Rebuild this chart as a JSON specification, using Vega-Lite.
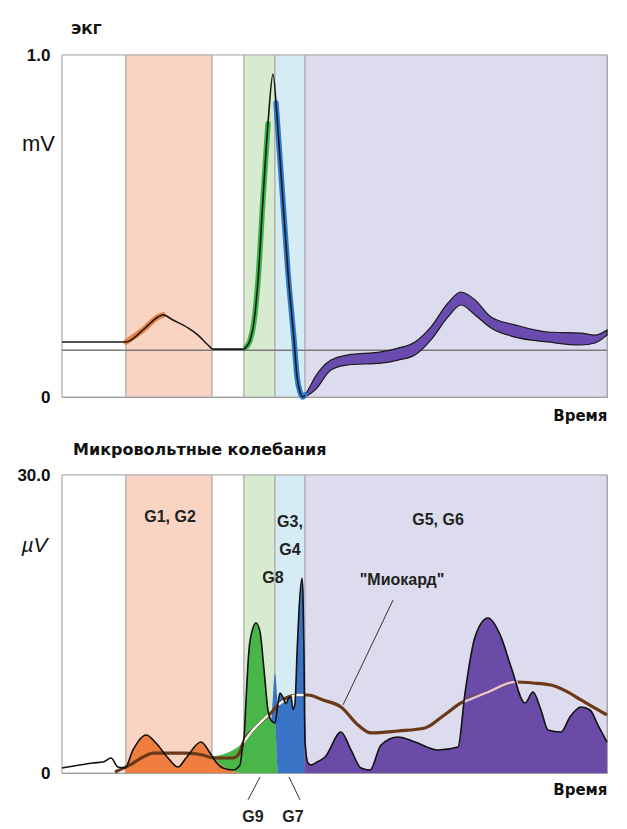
{
  "$schema": "https://vega.github.io/schema/vega-lite/v6.json",
  "padding": {"left": 16, "top": 22, "right": 10, "bottom": 0},
  "background": "white",
  "bounds": "flush",
  "spacing": 78,
  "config": {
    "font": "Liberation Sans",
    "view": {"stroke": "#9c9c9c", "strokeWidth": 1.2},
    "axis": {"grid": false, "ticks": false, "domain": false}
  },
  "datasets": {
    "bands": [
      {"b": "w1", "t": 0, "t2": 64},
      {"b": "o", "t": 64, "t2": 150},
      {"b": "w2", "t": 150, "t2": 182},
      {"b": "g", "t": 182, "t2": 213},
      {"b": "c", "t": 213, "t2": 243},
      {"b": "p", "t": 243, "t2": 545}
    ],
    "ecg": [
      {"t": 0, "v": 0.161}, {"t": 36, "v": 0.161}, {"t": 64, "v": 0.161}, {"t": 81, "v": 0.196},
      {"t": 96, "v": 0.234}, {"t": 101, "v": 0.24}, {"t": 111, "v": 0.225}, {"t": 126, "v": 0.202},
      {"t": 136, "v": 0.181}, {"t": 146, "v": 0.152}, {"t": 151, "v": 0.14}, {"t": 182, "v": 0.14},
      {"t": 184, "v": 0.146}, {"t": 188, "v": 0.165}, {"t": 192, "v": 0.22}, {"t": 196, "v": 0.34},
      {"t": 201, "v": 0.58}, {"t": 206, "v": 0.8}, {"t": 211, "v": 0.944}, {"t": 215, "v": 0.82},
      {"t": 219, "v": 0.655}, {"t": 226, "v": 0.363}, {"t": 232, "v": 0.167}, {"t": 235, "v": 0.06},
      {"t": 238, "v": 0.015}, {"t": 241, "v": 0.0}, {"t": 243, "v": 0.006}
    ],
    "ecgSeg": [
      {"seg": "o", "t": 64, "v": 0.161}, {"seg": "o", "t": 81, "v": 0.196}, {"seg": "o", "t": 96, "v": 0.234}, {"seg": "o", "t": 101, "v": 0.24},
      {"seg": "g", "t": 184, "v": 0.146}, {"seg": "g", "t": 188, "v": 0.165}, {"seg": "g", "t": 192, "v": 0.22}, {"seg": "g", "t": 196, "v": 0.34}, {"seg": "g", "t": 201, "v": 0.58}, {"seg": "g", "t": 206, "v": 0.8},
      {"seg": "c", "t": 214, "v": 0.86}, {"seg": "c", "t": 219, "v": 0.655}, {"seg": "c", "t": 226, "v": 0.363}, {"seg": "c", "t": 232, "v": 0.167}, {"seg": "c", "t": 235, "v": 0.06}, {"seg": "c", "t": 238, "v": 0.015}, {"seg": "c", "t": 241, "v": 0.0}, {"seg": "c", "t": 243, "v": 0.006}
    ],
    "twave": [
      {"t": 243, "hi": 0.006, "lo": 0.0}, {"t": 246, "hi": 0.02, "lo": 0.005}, {"t": 253, "hi": 0.058, "lo": 0.02},
      {"t": 269, "hi": 0.108, "lo": 0.079}, {"t": 286, "hi": 0.123, "lo": 0.094}, {"t": 319, "hi": 0.132, "lo": 0.099},
      {"t": 336, "hi": 0.143, "lo": 0.108}, {"t": 353, "hi": 0.161, "lo": 0.123}, {"t": 369, "hi": 0.205, "lo": 0.167},
      {"t": 386, "hi": 0.275, "lo": 0.234}, {"t": 399, "hi": 0.307, "lo": 0.269}, {"t": 413, "hi": 0.284, "lo": 0.24},
      {"t": 429, "hi": 0.234, "lo": 0.202}, {"t": 453, "hi": 0.211, "lo": 0.175}, {"t": 486, "hi": 0.19, "lo": 0.161},
      {"t": 519, "hi": 0.187, "lo": 0.152}, {"t": 533, "hi": 0.181, "lo": 0.158}, {"t": 545, "hi": 0.196, "lo": 0.181}
    ],
    "sig": [
      {"t": 0, "v": 0.5}, {"t": 18, "v": 0.81}, {"t": 31, "v": 1.01}, {"t": 41, "v": 1.1}, {"t": 49, "v": 1.51},
      {"t": 56, "v": 0.6}, {"t": 63, "v": 0.5}, {"t": 71, "v": 2.32}, {"t": 84, "v": 3.83}, {"t": 94, "v": 3.02},
      {"t": 106, "v": 1.51}, {"t": 116, "v": 0.6}, {"t": 124, "v": 1.51}, {"t": 139, "v": 3.12}, {"t": 148, "v": 2.01},
      {"t": 150, "v": 1.7}, {"t": 154, "v": 1.11}, {"t": 161, "v": 0.5}, {"t": 171, "v": 0.3}, {"t": 178, "v": 0.81},
      {"t": 181, "v": 3.02}, {"t": 182, "v": 3.5}, {"t": 184, "v": 7.3}, {"t": 187, "v": 12.4}, {"t": 191, "v": 14.6},
      {"t": 194, "v": 15.1}, {"t": 198, "v": 14.2}, {"t": 202, "v": 10.4}, {"t": 206, "v": 6.3}, {"t": 209, "v": 5.3},
      {"t": 213, "v": 5.03}, {"t": 216, "v": 7.0}, {"t": 218, "v": 8.05}, {"t": 221, "v": 7.6}, {"t": 224, "v": 7.0},
      {"t": 227, "v": 7.6}, {"t": 229, "v": 7.65}, {"t": 231, "v": 6.4}, {"t": 233, "v": 7.0}, {"t": 235, "v": 12.0},
      {"t": 237, "v": 16.4}, {"t": 240, "v": 19.6}, {"t": 241, "v": 18.0}, {"t": 242, "v": 12.0}, {"t": 243, "v": 3.0},
      {"t": 246, "v": 1.0}, {"t": 249, "v": 0.8}, {"t": 255, "v": 1.1}, {"t": 263, "v": 1.61}, {"t": 279, "v": 4.13},
      {"t": 289, "v": 2.32}, {"t": 299, "v": 0.5}, {"t": 308, "v": 0.3}, {"t": 319, "v": 2.82}, {"t": 336, "v": 3.62},
      {"t": 353, "v": 3.12}, {"t": 376, "v": 2.32}, {"t": 396, "v": 2.62}, {"t": 403, "v": 8.05}, {"t": 413, "v": 13.7},
      {"t": 426, "v": 15.6}, {"t": 439, "v": 13.7}, {"t": 449, "v": 10.7}, {"t": 463, "v": 7.05}, {"t": 471, "v": 8.15},
      {"t": 479, "v": 6.34}, {"t": 486, "v": 4.33}, {"t": 499, "v": 4.13}, {"t": 508, "v": 5.64}, {"t": 519, "v": 6.64},
      {"t": 528, "v": 6.34}, {"t": 536, "v": 4.83}, {"t": 545, "v": 3.12}
    ],
    "fill": [
      {"seg": "o", "t": 63, "v": 0.5}, {"seg": "o", "t": 71, "v": 2.32}, {"seg": "o", "t": 84, "v": 3.83}, {"seg": "o", "t": 94, "v": 3.02},
      {"seg": "o", "t": 106, "v": 1.51}, {"seg": "o", "t": 116, "v": 0.6}, {"seg": "o", "t": 124, "v": 1.51}, {"seg": "o", "t": 139, "v": 3.12},
      {"seg": "o", "t": 148, "v": 2.01}, {"seg": "o", "t": 150, "v": 1.7},
      {"seg": "g", "t": 181, "v": 3.02}, {"seg": "g", "t": 182, "v": 3.5}, {"seg": "g", "t": 184, "v": 7.3}, {"seg": "g", "t": 187, "v": 12.4},
      {"seg": "g", "t": 191, "v": 14.6}, {"seg": "g", "t": 194, "v": 15.1}, {"seg": "g", "t": 198, "v": 14.2}, {"seg": "g", "t": 202, "v": 10.4},
      {"seg": "g", "t": 206, "v": 6.3}, {"seg": "g", "t": 209, "v": 5.3}, {"seg": "g", "t": 213, "v": 5.03},
      {"seg": "c", "t": 213, "v": 5.03}, {"seg": "c", "t": 216, "v": 7.0}, {"seg": "c", "t": 218, "v": 8.05}, {"seg": "c", "t": 221, "v": 7.6},
      {"seg": "c", "t": 224, "v": 7.0}, {"seg": "c", "t": 227, "v": 7.6}, {"seg": "c", "t": 229, "v": 7.65}, {"seg": "c", "t": 231, "v": 6.4},
      {"seg": "c", "t": 233, "v": 7.0}, {"seg": "c", "t": 235, "v": 12.0}, {"seg": "c", "t": 237, "v": 16.4}, {"seg": "c", "t": 240, "v": 19.6},
      {"seg": "c", "t": 241, "v": 18.0}, {"seg": "c", "t": 242, "v": 12.0}, {"seg": "c", "t": 243, "v": 3.0},
      {"seg": "p", "t": 243, "v": 3.0}, {"seg": "p", "t": 246, "v": 1.0}, {"seg": "p", "t": 249, "v": 0.8}, {"seg": "p", "t": 255, "v": 1.1},
      {"seg": "p", "t": 263, "v": 1.61}, {"seg": "p", "t": 279, "v": 4.13}, {"seg": "p", "t": 289, "v": 2.32}, {"seg": "p", "t": 299, "v": 0.5},
      {"seg": "p", "t": 308, "v": 0.3}, {"seg": "p", "t": 319, "v": 2.82}, {"seg": "p", "t": 336, "v": 3.62}, {"seg": "p", "t": 353, "v": 3.12},
      {"seg": "p", "t": 376, "v": 2.32}, {"seg": "p", "t": 396, "v": 2.62}, {"seg": "p", "t": 403, "v": 8.05}, {"seg": "p", "t": 413, "v": 13.7},
      {"seg": "p", "t": 426, "v": 15.6}, {"seg": "p", "t": 439, "v": 13.7}, {"seg": "p", "t": 449, "v": 10.7}, {"seg": "p", "t": 463, "v": 7.05},
      {"seg": "p", "t": 471, "v": 8.15}, {"seg": "p", "t": 479, "v": 6.34}, {"seg": "p", "t": 486, "v": 4.33}, {"seg": "p", "t": 499, "v": 4.13},
      {"seg": "p", "t": 508, "v": 5.64}, {"seg": "p", "t": 519, "v": 6.64}, {"seg": "p", "t": 528, "v": 6.34}, {"seg": "p", "t": 536, "v": 4.83},
      {"seg": "p", "t": 545, "v": 3.12}
    ],
    "myo": [
      {"t": 53, "v": 0.1}, {"t": 68, "v": 0.81}, {"t": 81, "v": 1.61}, {"t": 91, "v": 2.01}, {"t": 124, "v": 2.01},
      {"t": 141, "v": 1.81}, {"t": 151, "v": 1.51}, {"t": 171, "v": 1.51}, {"t": 178, "v": 2.11}, {"t": 181, "v": 3.02},
      {"t": 191, "v": 4.33}, {"t": 201, "v": 5.34}, {"t": 209, "v": 6.04}, {"t": 216, "v": 6.85}, {"t": 226, "v": 7.65},
      {"t": 236, "v": 7.85}, {"t": 246, "v": 7.85}, {"t": 261, "v": 7.35}, {"t": 279, "v": 6.64}, {"t": 296, "v": 4.83},
      {"t": 309, "v": 4.03}, {"t": 336, "v": 4.23}, {"t": 363, "v": 4.53}, {"t": 381, "v": 5.74}, {"t": 399, "v": 7.05},
      {"t": 426, "v": 8.15}, {"t": 453, "v": 9.16}, {"t": 471, "v": 9.06}, {"t": 489, "v": 8.86}, {"t": 506, "v": 8.15},
      {"t": 519, "v": 7.35}, {"t": 533, "v": 6.54}, {"t": 545, "v": 5.84}
    ],
    "myoHi": [
      {"seg": "w1", "c": "w", "t": 181, "v": 3.02}, {"seg": "w1", "c": "w", "t": 191, "v": 4.33}, {"seg": "w1", "c": "w", "t": 201, "v": 5.34}, {"seg": "w1", "c": "w", "t": 207, "v": 5.9},
      {"seg": "w2", "c": "w", "t": 216, "v": 6.85}, {"seg": "w2", "c": "w", "t": 222, "v": 7.3},
      {"seg": "w3", "c": "w", "t": 230, "v": 7.72}, {"seg": "w3", "c": "w", "t": 236, "v": 7.85}, {"seg": "w3", "c": "w", "t": 243, "v": 7.85},
      {"seg": "p1", "c": "p", "t": 401, "v": 7.13}, {"seg": "p1", "c": "p", "t": 426, "v": 8.15}, {"seg": "p1", "c": "p", "t": 453, "v": 9.16}, {"seg": "p1", "c": "p", "t": 456, "v": 9.15}
    ],
    "leaders": [
      {"t": 331, "v": 17.4, "t2": 281, "v2": 6.85},
      {"t": 198, "v": -0.4, "t2": 186, "v2": -2.7},
      {"t": 227, "v": -0.4, "t2": 238, "v2": -2.7}
    ],
    "labels": [
      {"t": 108, "v": 25.8, "txt": "G1, G2"},
      {"t": 228, "v": 25.3, "txt": "G3,"},
      {"t": 228, "v": 22.4, "txt": "G4"},
      {"t": 211, "v": 19.6, "txt": "G8"},
      {"t": 376, "v": 25.5, "txt": "G5, G6"},
      {"t": 191, "v": -4.4, "txt": "G9"},
      {"t": 231, "v": -4.4, "txt": "G7"},
      {"t": 340, "v": 19.4, "txt": "\"Миокард\""}
    ]
  },
  "vconcat": [
    {
      "width": 545,
      "height": 342,
      "title": {"text": "ЭКГ", "anchor": "start", "frame": "group", "dx": 9, "offset": -2, "baseline": "alphabetic", "font": "DejaVu Sans", "fontSize": 14, "fontWeight": "bold", "color": "#111"},
      "encoding": {
        "x": {"field": "t", "type": "quantitative", "scale": {"domain": [0, 545], "nice": false, "zero": false},
          "axis": {"labels": false, "title": "Время", "titleAnchor": "end", "titleFont": "DejaVu Sans", "titleFontSize": 15, "titleFontWeight": "bold", "titleBaseline": "top", "titlePadding": 11, "titleColor": "#111"}}
      },
      "layer": [
        {
          "data": {"name": "bands"},
          "mark": {"type": "rect", "stroke": "#a8a8a8", "strokeWidth": 1},
          "encoding": {
            "x2": {"field": "t2"},
            "color": {"field": "b", "type": "nominal", "legend": null,
              "scale": {"domain": ["w1", "o", "w2", "g", "c", "p"], "range": ["#FFFFFF", "#F9D4C2", "#FFFFFF", "#D8EBD0", "#D5ECF4", "#DDDCEE"]}}
          }
        },
        {
          "data": {"values": [{"base": 0.137}]},
          "mark": {"type": "rule", "color": "#7a7a7a", "strokeWidth": 1.5},
          "encoding": {"x": null, "y": {"field": "base", "type": "quantitative"}}
        },
        {
          "data": {"name": "twave"},
          "mark": {"type": "area", "interpolate": "monotone", "fill": "#6A4BB0", "stroke": "#1a1a1a", "strokeWidth": 1.2},
          "encoding": {
            "y": {"field": "hi", "type": "quantitative"},
            "y2": {"field": "lo"}
          }
        },
        {
          "data": {"name": "ecgSeg"},
          "mark": {"type": "line", "interpolate": "monotone", "strokeWidth": 5.5, "strokeCap": "round"},
          "encoding": {
            "y": {"field": "v", "type": "quantitative"},
            "detail": {"field": "seg"},
            "color": {"field": "seg", "type": "nominal", "legend": null,
              "scale": {"domain": ["o", "g", "c"], "range": ["#E8803F", "#3FB548", "#2E7BD0"]}}
          }
        },
        {
          "data": {"name": "ecg"},
          "mark": {"type": "line", "interpolate": "monotone", "color": "#1a1a1a", "strokeWidth": 1.6},
          "encoding": {
            "y": {"field": "v", "type": "quantitative", "scale": {"domain": [0, 1], "nice": false},
              "axis": {"values": [0, 1], "labelExpr": "datum.value == 1 ? '1.0' : '0'", "labelFontSize": 17, "labelFontWeight": "bold", "labelPadding": 12, "labelColor": "#111",
                "title": "mV", "titleAngle": 0, "titleX": -24, "titleY": 88, "titleAlign": "center", "titleBaseline": "middle", "titleFontSize": 22, "titleFontWeight": "normal", "titleColor": "#111"}}
          }
        }
      ],
      "resolve": {"scale": {"color": "independent"}}
    },
    {
      "width": 545,
      "height": 298,
      "title": {"text": "Микровольтные  колебания", "anchor": "start", "frame": "group", "dx": 11, "offset": -5, "baseline": "alphabetic", "font": "DejaVu Sans", "fontSize": 16, "fontWeight": "bold", "color": "#111"},
      "encoding": {
        "x": {"field": "t", "type": "quantitative", "scale": {"domain": [0, 545], "nice": false, "zero": false},
          "axis": {"labels": false, "title": "Время", "titleAnchor": "end", "titleFont": "DejaVu Sans", "titleFontSize": 15, "titleFontWeight": "bold", "titleBaseline": "top", "titlePadding": 9, "titleColor": "#111"}}
      },
      "layer": [
        {
          "data": {"name": "bands"},
          "mark": {"type": "rect", "stroke": "#a8a8a8", "strokeWidth": 1},
          "encoding": {
            "x2": {"field": "t2"},
            "color": {"field": "b", "type": "nominal", "legend": null,
              "scale": {"domain": ["w1", "o", "w2", "g", "c", "p"], "range": ["#FFFFFF", "#F9D4C2", "#FFFFFF", "#D8EBD0", "#D5ECF4", "#DDDCEE"]}}
          }
        },
        {
          "data": {"name": "fill"},
          "mark": {"type": "area", "interpolate": "monotone"},
          "encoding": {
            "y": {"field": "v", "type": "quantitative"},
            "detail": {"field": "seg"},
            "fill": {"field": "seg", "type": "nominal", "legend": null,
              "scale": {"domain": ["o", "g", "c", "p"], "range": ["#EF7E3E", "#49B649", "#3873C6", "#6A4CA8"]}}
          }
        },
        {
          "data": {"name": "myo"},
          "mark": {"type": "line", "interpolate": "monotone", "color": "#6B3818", "strokeWidth": 3.2},
          "encoding": {"y": {"field": "v", "type": "quantitative"}}
        },
        {
          "data": {"name": "myoHi"},
          "mark": {"type": "line", "interpolate": "monotone", "strokeWidth": 2.4},
          "encoding": {
            "y": {"field": "v", "type": "quantitative"},
            "detail": {"field": "seg"},
            "stroke": {"field": "c", "type": "nominal", "legend": null, "scale": {"domain": ["w", "p"], "range": ["#F2F8F2", "#E4C4E6"]}}
          }
        },
        {
          "data": {"name": "sig"},
          "mark": {"type": "line", "interpolate": "monotone", "color": "#111111", "strokeWidth": 1.6},
          "encoding": {
            "y": {"field": "v", "type": "quantitative", "scale": {"domain": [0, 30], "nice": false},
              "axis": {"values": [0, 30], "labelExpr": "datum.value == 30 ? '30.0' : '0'", "labelFontSize": 17, "labelFontWeight": "bold", "labelPadding": 12, "labelColor": "#111",
                "title": "µV", "titleAngle": 0, "titleX": -28, "titleY": 70, "titleAlign": "center", "titleBaseline": "middle", "titleFontSize": 21, "titleFontWeight": "normal", "titleFontStyle": "italic", "titleColor": "#111"}}
          }
        },
        {
          "data": {"name": "leaders"},
          "mark": {"type": "rule", "color": "#333333", "strokeWidth": 1},
          "encoding": {
            "y": {"field": "v", "type": "quantitative"},
            "x2": {"field": "t2"},
            "y2": {"field": "v2"}
          }
        },
        {
          "data": {"name": "labels"},
          "mark": {"type": "text", "fontSize": 16, "fontWeight": "bold", "color": "#222222", "align": "center", "baseline": "middle"},
          "encoding": {
            "y": {"field": "v", "type": "quantitative"},
            "text": {"field": "txt"}
          }
        }
      ],
      "resolve": {"scale": {"color": "independent", "fill": "independent", "stroke": "independent"}}
    }
  ]
}
